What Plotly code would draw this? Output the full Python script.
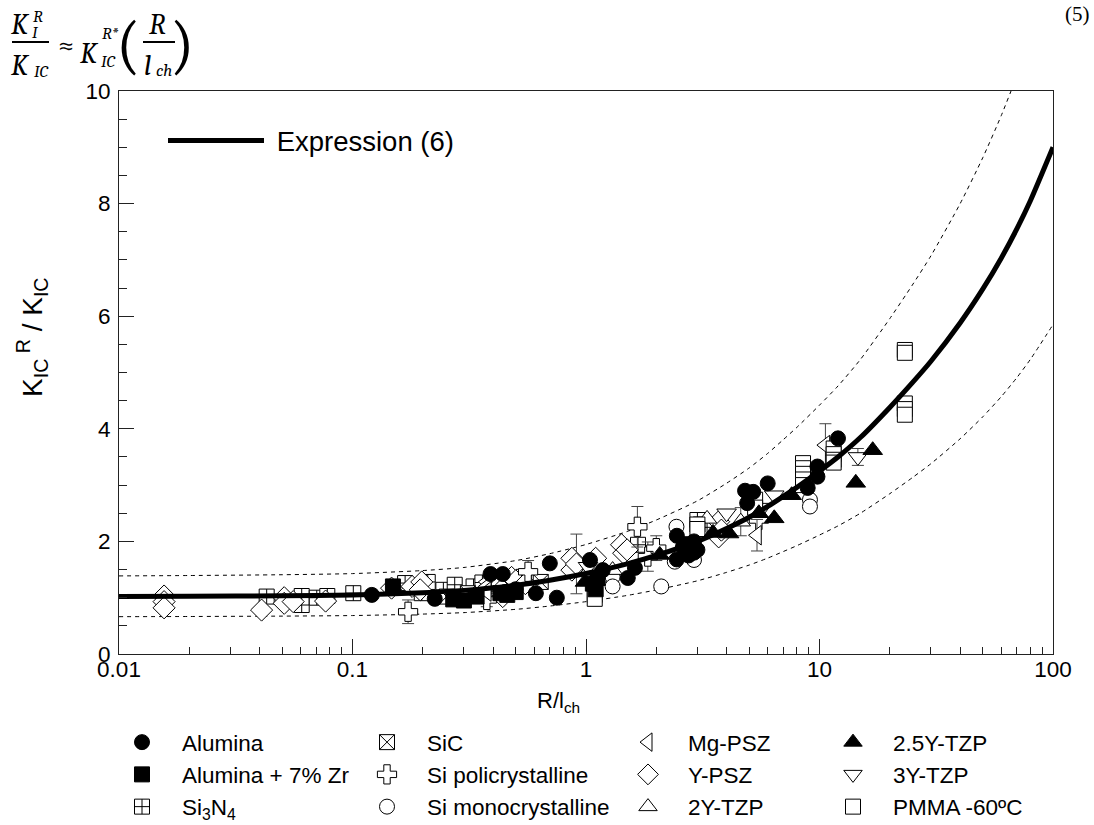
import plotly.graph_objects as go

# ---------------- data ----------------
# Expression (6) and the two dashed bounds
curve_x = [0.01, 0.02, 0.05, 0.1, 0.2, 0.3, 0.5, 0.7, 1, 1.5, 2, 3, 4, 5, 6, 7, 8, 10, 12, 15, 20, 25, 30, 40, 50, 60, 70, 80, 100]
curve_y = [1.02, 1.025, 1.035, 1.05, 1.09, 1.13, 1.22, 1.31, 1.43, 1.60, 1.75, 2.00, 2.23, 2.43, 2.62, 2.80, 2.96, 3.25, 3.50, 3.85, 4.38, 4.82, 5.20, 5.88, 6.48, 7.03, 7.55, 8.05, 9.00]
upper_y = [1.387, 1.394, 1.408, 1.428, 1.482, 1.537, 1.659, 1.782, 1.945, 2.176, 2.38, 2.72, 3.033, 3.305, 3.563, 3.808, 4.026, 4.42, 4.76, 5.236, 5.957, 6.555, 7.072, 7.997, 8.813, 9.561, 10.268, 10.948, 12.24]
lower_y = [0.663, 0.666, 0.673, 0.683, 0.709, 0.735, 0.793, 0.852, 0.93, 1.04, 1.138, 1.30, 1.45, 1.58, 1.703, 1.82, 1.924, 2.113, 2.275, 2.503, 2.847, 3.133, 3.38, 3.822, 4.212, 4.57, 4.908, 5.233, 5.85]

alumina_x = [0.121, 0.225, 0.39, 0.44, 0.45, 0.5, 0.61, 0.70, 0.75, 1.04, 1.18, 1.51, 1.62, 2.45, 2.45, 2.6, 2.75, 2.9, 2.9, 3.0, 4.8, 4.9, 5.2, 6.0, 8.9, 9.8, 9.8, 12.0]
alumina_y = [1.05, 0.98, 1.42, 1.42, 1.10, 1.15, 1.08, 1.61, 1.00, 1.67, 1.49, 1.35, 1.53, 2.10, 1.68, 1.90, 1.75, 2.00, 1.80, 1.85, 2.90, 2.68, 2.88, 3.03, 2.95, 3.33, 3.15, 3.83]

alzr_x = [0.149, 0.27, 0.30, 0.34, 0.43, 0.46, 0.50, 1.07, 1.10, 1.12, 2.7, 2.8]
alzr_y = [1.20, 0.97, 0.95, 1.02, 1.08, 1.05, 1.10, 1.25, 1.15, 1.35, 1.95, 1.85]

si3n4_x = [0.0429, 0.0606, 0.0606, 0.0703, 0.078, 0.1008, 0.168, 0.198, 0.21, 0.245, 0.274, 0.33, 0.36, 0.43, 0.52, 0.54, 1.67, 3.0, 3.1, 3.3]
si3n4_y = [1.02, 1.03, 0.87, 1.00, 1.03, 1.08, 1.26, 1.08, 1.28, 1.14, 1.23, 1.20, 1.27, 1.25, 1.26, 1.37, 1.94, 2.38, 2.30, 2.25]

sic_x = [0.253, 0.312, 0.64]
sic_y = [1.02, 1.08, 1.28]

sipoly_x = [0.173, 0.376, 0.565, 1.66, 1.84, 2.0, 5.5]
sipoly_y = [0.75, 0.96, 1.46, 2.26, 1.73, 1.88, 2.38]
sipoly_err = [0.21, 0.12, 0.2, 0.36, 0.26, 0.22, 0.0]

simono_x = [1.30, 1.30, 2.1, 2.4, 2.44, 2.9, 9.1, 9.1]
simono_y = [1.37, 1.20, 1.20, 1.64, 2.26, 1.67, 2.74, 2.62]

mgpsz_x = [0.376, 0.376, 0.376, 5.4, 10.6]
mgpsz_y = [1.28, 1.20, 1.11, 2.11, 3.71]
mgpsz_err = [0.0, 0.0, 0.0, 0.28, 0.38]

ypsz_x = [0.0156, 0.0156, 0.0156, 0.0408, 0.051, 0.051, 0.0557, 0.0767, 0.147, 0.18, 0.198, 0.195, 0.42, 0.44, 0.45, 0.48, 0.50, 0.55, 0.87, 0.87, 0.91, 1.10, 1.42, 1.45, 1.5, 3.7, 3.7, 3.8]
ypsz_y = [1.03, 0.93, 0.82, 0.78, 1.00, 0.90, 0.93, 0.94, 1.17, 1.20, 1.28, 1.14, 1.30, 1.02, 1.20, 1.36, 1.30, 1.25, 1.70, 1.49, 1.60, 1.70, 1.94, 1.79, 1.85, 2.35, 2.08, 2.20]
ypsz_err = [0.0] * 20 + [0.53] + [0.0] * 7

tzp2_x = [1.30, 3.3, 4.6]
tzp2_y = [1.49, 2.40, 2.35]
tzp2_err = [0.0, 0.0, 0.25]

tzp25_x = [0.99, 1.1, 2.07, 3.5, 4.1, 5.5, 6.4, 7.6, 14.3, 16.9]
tzp25_y = [1.28, 1.35, 1.76, 2.15, 2.14, 2.50, 2.41, 2.82, 3.04, 3.62]

tzp3_x = [1.02, 4.0, 5.7, 6.4, 14.6]
tzp3_y = [1.55, 2.50, 2.60, 2.82, 3.50]
tzp3_err = [0.0, 0.0, 0.0, 0.0, 0.15]

pmma_x = [1.09, 1.09, 3.0, 3.0, 5.3, 5.3, 8.5, 8.5, 8.5, 8.5, 8.5, 11.5, 11.5, 11.5, 11.5, 23.2, 23.2, 23.2, 23.2, 23.2]
pmma_y = [1.05, 0.98, 2.30, 2.22, 2.74, 2.60, 3.39, 3.30, 3.20, 3.10, 3.00, 3.65, 3.55, 3.45, 3.40, 5.40, 5.35, 4.45, 4.35, 4.25]

x_tickvals = [0.01, 0.1, 1, 10, 100]
x_ticktext = ["0.01", "0.1", "1", "10", "100"]
y_tickvals = [0, 2, 4, 6, 8, 10]

# ---------------- figure ----------------
L, R, T, B = 119, 1053, 91, 654
W, H = 1094, 825


def pp(px, py):
    return (px - L) / (R - L), (B - py) / (B - T)


SANS = "Arial, Liberation Sans, sans-serif"
SERIF = "Cambria, Liberation Serif, DejaVu Serif, serif"

fig = go.Figure()

dash = "4px,4px"
for yy in (upper_y, lower_y):
    fig.add_trace(go.Scatter(x=curve_x, y=yy, mode="lines",
                             line=dict(color="black", width=1, dash=dash, shape="spline", smoothing=0.6),
                             showlegend=False, hoverinfo="skip"))

MS = 15
series = [
    # name, x, y, err, symbol, fill, legend, rank
    ("Si<sub>3</sub>N<sub>4</sub>", si3n4_x, si3n4_y, None, "square-cross", "white", "legend", 3),
    ("Y-PSZ", ypsz_x, ypsz_y, ypsz_err, "diamond", "white", "legend3", 2),
    ("SiC", sic_x, sic_y, None, "square-x", "white", "legend2", 1),
    ("Si policrystalline", sipoly_x, sipoly_y, sipoly_err, "cross", "white", "legend2", 2),
    ("Si monocrystalline", simono_x, simono_y, None, "circle", "white", "legend2", 3),
    ("Mg-PSZ", mgpsz_x, mgpsz_y, mgpsz_err, "triangle-left", "white", "legend3", 1),
    ("2Y-TZP", tzp2_x, tzp2_y, tzp2_err, "triangle-up", "white", "legend3", 3),
    ("3Y-TZP", tzp3_x, tzp3_y, tzp3_err, "triangle-down", "white", "legend4", 2),
    ("PMMA -60ºC", pmma_x, pmma_y, None, "square", "white", "legend4", 3),
    ("Alumina + 7% Zr", alzr_x, alzr_y, None, "square", "black", "legend", 2),
    ("Alumina", alumina_x, alumina_y, None, "circle", "black", "legend", 1),
    ("2.5Y-TZP", tzp25_x, tzp25_y, None, "triangle-up", "black", "legend4", 1),
]

for name, xs, ys, err, sym, fill, leg, rank in series:
    ms = MS + 2 if sym in ("diamond", "triangle-up", "triangle-down", "triangle-left") else MS
    if sym == "cross":
        ms = MS + 1
    ed = None
    if err is not None:
        ed = dict(type="data", array=err, visible=True, color="#444", thickness=1, width=6)
    fig.add_trace(go.Scatter(
        x=xs, y=ys, mode="markers", name=name, legend=leg, legendrank=rank,
        marker=dict(symbol=sym, size=ms, color=fill, line=dict(color="black", width=1)),
        error_y=ed, cliponaxis=False,
    ))

fig.add_trace(go.Scatter(x=curve_x, y=curve_y, mode="lines", name="\u00a0Expression (6)", legend="legend5",
                         line=dict(color="black", width=5, shape="spline", smoothing=0.6)))

# ---------------- layout ----------------
leg_common = dict(bgcolor="rgba(0,0,0,0)", borderwidth=0, orientation="v", xanchor="left", yanchor="top",
                  font=dict(family=SANS, size=22.5, color="black"), itemwidth=70, tracegroupgap=0,
                  traceorder="normal", itemclick=False)
cols = [(144, "legend"), (389, "legend2"), (650, "legend3"), (855, "legend4")]
legends = {}
for cx, key in cols:
    lx, ly = pp(cx - 42, 721)
    legends[key] = dict(leg_common, x=lx, y=ly)

ex, ey = pp(163, 116)
legends["legend5"] = dict(bgcolor="rgba(0,0,0,0)", borderwidth=0, xanchor="left", yanchor="top", x=ex, y=ey,
                          font=dict(family=SANS, size=27.5, color="black"), itemwidth=96, itemclick=False)

axis_common = dict(showline=True, linecolor="#222", linewidth=1, mirror=True, showgrid=False, zeroline=False,
                   ticks="inside", tickcolor="#222", tickwidth=1, ticklen=15,
                   tickfont=dict(family=SANS, size=22.5, color="black"))

minor_x = [m * 10 ** e for e in (-2, -1, 0, 1) for m in range(2, 10)]

fig.update_layout(
    width=W, height=H,
    margin=dict(l=L, r=W - R, t=T, b=H - B, pad=0, autoexpand=False),
    paper_bgcolor="white", plot_bgcolor="white",
    showlegend=True,
    xaxis=dict(axis_common, type="log", range=[-2, 2], tickmode="array", tickvals=x_tickvals, ticktext=x_ticktext,
               ticklabelstandoff=-5,
               minor=dict(ticks="inside", ticklen=7, tickcolor="#222", tickmode="array", tickvals=minor_x)),
    yaxis=dict(axis_common, range=[0, 10], tickmode="array", tickvals=y_tickvals, ticklabelstandoff=3,
               minor=dict(ticks="inside", ticklen=8, tickcolor="#222", dtick=0.5)),
    **legends,
)

# axis titles placed as in the reference
tx, ty = pp(558, 702)
fig.add_annotation(x=tx, y=ty, xref="paper", yref="paper", text="R/l<sub>ch</sub>", showarrow=False,
                   xanchor="center", yanchor="middle", font=dict(family=SANS, size=22, color="black"))
yx, yy_ = pp(32, 338)
fig.add_annotation(x=yx, y=yy_, xref="paper", yref="paper", text="K<sub>IC</sub><sup> R</sup> / K<sub>IC</sub>",
                   showarrow=False, textangle=-90, xanchor="center", yanchor="middle",
                   font=dict(family=SANS, size=28, color="black"))

# ---------------- equation (5) at top ----------------
eq = [
    ("K", 20, 25, 29, True),
    ("R", 38, 17, 17, True),
    ("I", 35, 32, 17, True),
    ("K", 20, 65, 29, True),
    ("IC", 41, 71, 17, True),
    ("≈", 66, 45, 29, False),
    ("K", 89, 54, 29, True),
    ("R*", 110, 33, 17, True),
    ("IC", 108, 62, 17, True),
    ("(", 128, 45, 64, False),
    ("R", 157, 25, 29, True),
    ("l", 147, 65, 29, True),
    ("ch", 164, 70, 17, True),
    (")", 182, 45, 64, False),
]
for txt, px, py, sz, it in eq:
    ax_, ay_ = pp(px, py)
    fig.add_annotation(x=ax_, y=ay_, xref="paper", yref="paper", text=txt, showarrow=False,
                       xanchor="center", yanchor="middle",
                       font=dict(family=SERIF, size=sz, color="black", style="italic" if it else "normal"))
for x0, x1 in [(12, 49), (143, 175)]:
    a0, b0 = pp(x0, 42)
    a1, _ = pp(x1, 42)
    fig.add_shape(type="line", xref="paper", yref="paper", x0=a0, x1=a1, y0=b0, y1=b0,
                  line=dict(color="black", width=2))

nx, ny = pp(1077, 14)
fig.add_annotation(x=nx, y=ny, xref="paper", yref="paper", text="(5)", showarrow=False,
                   xanchor="center", yanchor="middle", font=dict(family="Times New Roman, Liberation Serif, serif", size=21, color="black"))

fig.write_html("out.html", config={"displayModeBar": False},
               post_script="document.body.style.margin='0px';document.body.style.overflow='hidden';")
